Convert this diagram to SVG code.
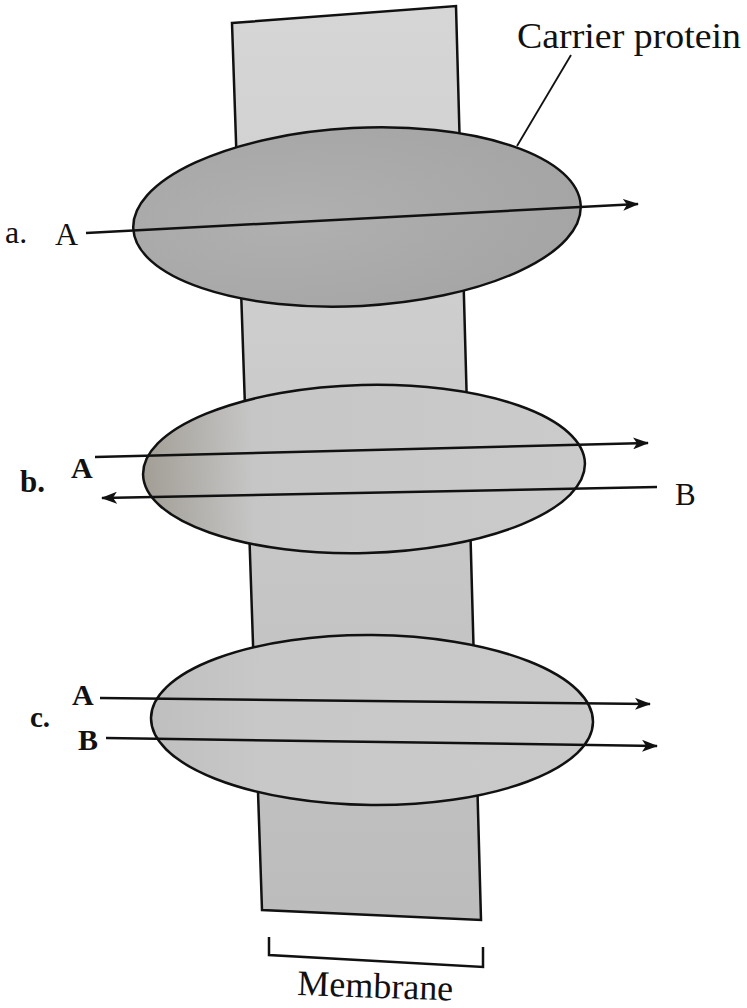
<svg xmlns="http://www.w3.org/2000/svg" width="747" height="1008" viewBox="0 0 747 1008">
<style>
.lbl{font-family:"Liberation Serif","Times New Roman",serif;fill:#111}
.bold{font-weight:bold}
.edge{stroke:#111;stroke-width:2.5;fill:none}
.prot{stroke:#111;stroke-width:2.5}
</style>
<defs>
<linearGradient id="memG" x1="0" y1="0" x2="0" y2="1">
<stop offset="0" stop-color="#d6d6d6"/>
<stop offset="1" stop-color="#bcbcbc"/>
</linearGradient>
<radialGradient id="gA" cx="0.35" cy="0.5" r="0.7">
<stop offset="0" stop-color="#b0b0b0"/>
<stop offset="1" stop-color="#a4a4a4"/>
</radialGradient>
<linearGradient id="gB" x1="0" y1="0" x2="1" y2="0">
<stop offset="0" stop-color="#a29e96"/>
<stop offset="0.25" stop-color="#c6c6c6"/>
<stop offset="1" stop-color="#cbcbcb"/>
</linearGradient>
<linearGradient id="gC" x1="0" y1="0" x2="1" y2="0">
<stop offset="0" stop-color="#bfbfbf"/>
<stop offset="0.25" stop-color="#c8c8c8"/>
<stop offset="1" stop-color="#cacaca"/>
</linearGradient>
<marker id="ah" viewBox="0 0 16 12" refX="15" refY="6" markerWidth="16" markerHeight="12" markerUnits="userSpaceOnUse" orient="auto">
<path d="M0,0 L16,6 L0,12 L4,6 Z" fill="#111"/>
</marker>
</defs>
<rect width="747" height="1008" fill="#ffffff"/>
<g id="membrane">
<path d="M232,23 L456,6 L481,920 L262,910 Z" fill="url(#memG)" stroke="#111" stroke-width="2.5"/>
</g>
<g id="protein-a">
<ellipse cx="357" cy="217" rx="224" ry="89" transform="rotate(-3 357 217)" fill="url(#gA)" class="prot"/>
</g>
<g id="protein-b">
<ellipse cx="364" cy="469" rx="221" ry="84" transform="rotate(-1.5 364 469)" fill="url(#gB)" class="prot"/>
</g>
<g id="protein-c">
<ellipse cx="372" cy="720" rx="221" ry="85" transform="rotate(0.5 372 720)" fill="url(#gC)" class="prot"/>
</g>
<g id="connectors">
<line x1="86" y1="233" x2="638" y2="204" class="edge" marker-end="url(#ah)"/>
<line x1="95" y1="457" x2="648" y2="443" class="edge" marker-end="url(#ah)"/>
<line x1="657" y1="487" x2="102" y2="498" class="edge" marker-end="url(#ah)"/>
<line x1="100" y1="698" x2="650" y2="704" class="edge" marker-end="url(#ah)"/>
<line x1="106" y1="738" x2="657" y2="746" class="edge" marker-end="url(#ah)"/>
<line x1="571" y1="55" x2="517" y2="146" stroke="#111" stroke-width="1.8"/>
<polyline points="269,937 269,955 483,967 483,947" class="edge"/>
</g>
<g id="labels">
<text class="lbl" x="517" y="48" font-size="36" textLength="224" lengthAdjust="spacingAndGlyphs">Carrier protein</text>
<text class="lbl" x="5" y="243" font-size="32">a.</text>
<text class="lbl" x="55" y="245" font-size="32">A</text>
<text class="lbl bold" x="20" y="492" font-size="31">b.</text>
<text class="lbl bold" x="71" y="478" font-size="30">A</text>
<text class="lbl" x="675" y="505" font-size="31">B</text>
<text class="lbl bold" x="30" y="727" font-size="29">c.</text>
<text class="lbl bold" x="72" y="705" font-size="30">A</text>
<text class="lbl bold" x="78" y="750" font-size="30">B</text>
<text class="lbl" x="297" y="995" font-size="36" transform="rotate(2 297 995)">Membrane</text>
</g>
</svg>
